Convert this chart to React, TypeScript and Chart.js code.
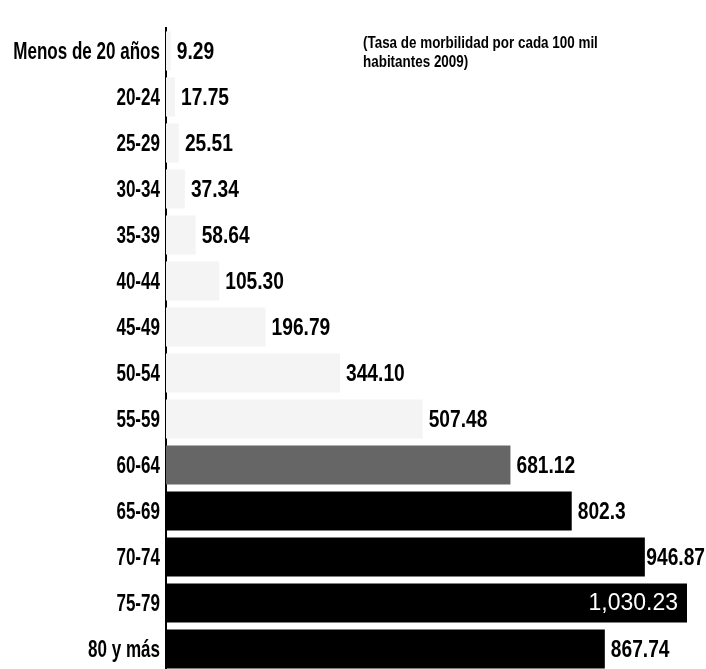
import React, { useEffect, useRef } from "react";
import { Chart, registerables } from "chart.js";

Chart.register(...registerables);

const categories = [
  "Menos de 20 años",
  "20-24",
  "25-29",
  "30-34",
  "35-39",
  "40-44",
  "45-49",
  "50-54",
  "55-59",
  "60-64",
  "65-69",
  "70-74",
  "75-79",
  "80 y más",
];
const values = [9.29, 17.75, 25.51, 37.34, 58.64, 105.3, 196.79, 344.1, 507.48, 681.12, 802.3, 946.87, 1030.23, 867.74];
const valueLabels = [
  "9.29",
  "17.75",
  "25.51",
  "37.34",
  "58.64",
  "105.30",
  "196.79",
  "344.10",
  "507.48",
  "681.12",
  "802.3",
  "946.87",
  "1,030.23",
  "867.74",
];
const noteLines = ["(Tasa de morbilidad por cada 100 mil", "habitantes 2009)"];

const SANS = '"Liberation Sans", Arial, sans-serif';

const barColors = [
  "#f4f4f4", "#f4f4f4", "#f4f4f4", "#f4f4f4", "#f4f4f4", "#f4f4f4", "#f4f4f4",
  "#f4f4f4", "#f4f4f4", "#666666", "#000000", "#000000", "#000000", "#000000",
];

function drawCondensed(
  ctx: CanvasRenderingContext2D,
  text: string,
  x: number,
  y: number,
  align: CanvasTextAlign,
  sx: number
) {
  ctx.save();
  ctx.translate(x, y);
  ctx.scale(sx, 1);
  ctx.textAlign = align;
  ctx.fillText(text, 0, 0);
  ctx.restore();
}

const labelPlugin = {
  id: "valueLabels",
  afterDraw(chart: any) {
    const ctx: CanvasRenderingContext2D = chart.ctx;
    const meta = chart.getDatasetMeta(0);
    const yScale = chart.scales.y;
    const maxVal = Math.max(...values);
    ctx.save();
    ctx.textBaseline = "middle";

    ctx.font = `bold 24px ${SANS}`;
    ctx.fillStyle = "#000000";
    categories.forEach((c, i) => {
      const y = yScale.getPixelForTick(i);
      drawCondensed(ctx, c, yScale.right - 6, y + 1, "right", 0.71);
    });

    meta.data.forEach((bar: any, i: number) => {
      const { x, y } = bar.getProps(["x", "y"], true);
      if (values[i] === maxVal) {
        ctx.font = `23px ${SANS}`;
        ctx.fillStyle = "#ffffff";
        drawCondensed(ctx, valueLabels[i], x - 9, y + 1, "right", 1);
      } else {
        ctx.font = `bold 24px ${SANS}`;
        ctx.fillStyle = "#000000";
        const sx = 0.8;
        const w = ctx.measureText(valueLabels[i]).width * sx;
        const tx = Math.min(x + 6, chart.width - w - 1);
        drawCondensed(ctx, valueLabels[i], tx, y + 1, "left", sx);
      }
    });

    ctx.font = `bold 17px ${SANS}`;
    ctx.fillStyle = "#000000";
    drawCondensed(ctx, noteLines[0], 363, 43, "left", 0.79);
    drawCondensed(ctx, noteLines[1], 363, 62, "left", 0.79);
    ctx.restore();
  },
};

export default function App() {
  const canvasRef = useRef<HTMLCanvasElement | null>(null);

  useEffect(() => {
    if (!canvasRef.current) return;
    const chart = new Chart(canvasRef.current, {
      type: "bar",
      data: {
        labels: categories,
        datasets: [
          {
            data: values,
            backgroundColor: barColors,
            borderWidth: 0,
            barPercentage: 0.85,
            categoryPercentage: 1,
          },
        ],
      },
      options: {
        indexAxis: "y",
        responsive: false,
        animation: false,
        layout: { padding: { top: 28, bottom: 0, left: 0, right: 19 } },
        plugins: {
          legend: { display: false },
          tooltip: { enabled: false },
          title: { display: false },
        },
        scales: {
          x: {
            display: false,
            min: 0,
            max: Math.max(...values),
            grid: { display: false },
          },
          y: {
            grid: { display: false },
            border: { display: true, color: "#000000", width: 2 },
            ticks: { display: false },
            afterFit: (scale: any) => {
              scale.width = 166;
            },
          },
        },
      },
      plugins: [labelPlugin],
    });
    return () => chart.destroy();
  }, []);

  return (
    <div
      style={{
        position: "fixed",
        left: 0,
        top: 0,
        width: 706,
        height: 672,
        background: "#ffffff",
        overflow: "hidden",
      }}
    >
      <canvas ref={canvasRef} width={706} height={672} style={{ width: 706, height: 672 }} />
    </div>
  );
}
